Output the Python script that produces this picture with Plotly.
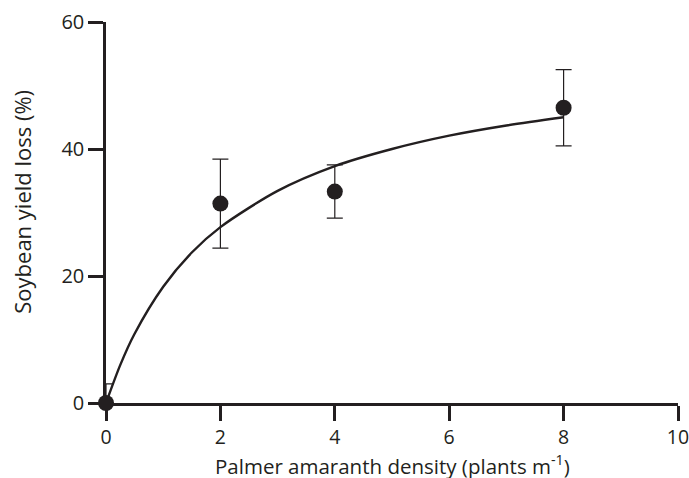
import plotly.graph_objects as go

# Observed data (means with standard errors)
density = [0, 2, 4, 8]
yield_loss = [0, 31.4, 33.3, 46.5]
err_plus = [3.0, 7.0, 4.2, 6.0]
err_minus = [0.0, 7.0, 4.2, 6.0]

# Fitted curve, values
curve_x = [0, 0.25, 0.5, 1, 1.5, 2, 3, 4, 5, 6, 7, 8]
curve_y = [0, 6.0, 10.9, 18.3, 23.7, 27.7, 33.4, 37.3, 40.0, 42.1, 43.7, 45.0]

x_ticks = [0, 2, 4, 6, 8, 10]
y_ticks = [0, 20, 40, 60]

x_title = "Palmer amaranth density (plants m<sup>-1</sup>)"
y_title = "Soybean yield loss (%)"

ink = "#231f20"
font = "'Open Sans', Lato, sans-serif"

fig = go.Figure()
fig.add_trace(go.Scatter(
    x=curve_x, y=curve_y, mode="lines",
    line=dict(color=ink, width=2.4, shape="spline", smoothing=0.8),
    hoverinfo="skip", cliponaxis=False))
fig.add_trace(go.Scatter(
    x=density, y=yield_loss, mode="markers",
    marker=dict(color=ink, size=16),
    error_y=dict(type="data", symmetric=False, array=err_plus, arrayminus=err_minus,
                 color=ink, thickness=1.2, width=8),
    cliponaxis=False))

fig.update_layout(
    width=689, height=478,
    margin=dict(l=106, r=11, t=22, b=75, autoexpand=False),
    paper_bgcolor="white", plot_bgcolor="white",
    showlegend=False,
    font=dict(family=font, size=20, color=ink),
    xaxis=dict(range=[0, 10], tickvals=x_ticks, showgrid=False, zeroline=False,
               showline=True, linecolor=ink, linewidth=2.5, automargin=False,
               ticks="outside", ticklen=15, tickwidth=2.5, tickcolor=ink,
               tickfont=dict(size=19.5), ticklabeloverflow="allow"),
    yaxis=dict(range=[0, 60], tickvals=y_ticks, showgrid=False, zeroline=False,
               showline=True, linecolor=ink, linewidth=2.5, automargin=False,
               ticks="outside", ticklen=15, tickwidth=2.5, tickcolor=ink,
               tickfont=dict(size=20)),
    annotations=[
        dict(text=x_title, xref="paper", yref="paper", x=0.5, y=-0.162,
             xanchor="center", yanchor="middle", showarrow=False,
             font=dict(size=20.5, color=ink)),
        dict(text=y_title, xref="paper", yref="paper", x=-0.147, y=0.528,
             xanchor="center", yanchor="middle", textangle=-90, showarrow=False,
             font=dict(size=22, color=ink)),
    ],
)

# remove the default 8px page margin so the 689x478 figure fills the window exactly
fig.write_html("out.html",
               config={"displayModeBar": False},
               post_script="document.body.style.margin='0';document.body.style.overflow='hidden';")
